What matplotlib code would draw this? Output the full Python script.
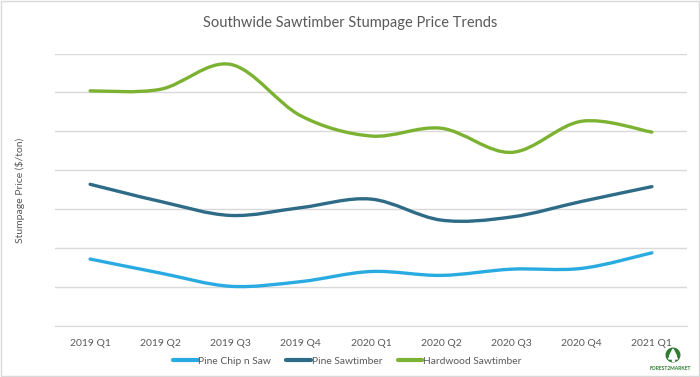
import matplotlib
matplotlib.use("Agg")
import matplotlib.pyplot as plt
from matplotlib.path import Path
from matplotlib.patches import PathPatch, Rectangle, Circle, Polygon
from matplotlib.lines import Line2D
import numpy as np

plt.rcParams['font.family'] = ['Lato', 'DejaVu Sans']

categories = ["2019 Q1", "2019 Q2", "2019 Q3", "2019 Q4", "2020 Q1",
              "2020 Q2", "2020 Q3", "2020 Q4", "2021 Q1"]
pine_cns = [18.6, 16.8, 15.1, 15.7, 17.0, 16.5, 17.3, 17.4, 19.4]
pine_saw = [28.2, 26.0, 24.2, 25.2, 26.3, 23.6, 24.0, 26.0, 27.9]
hardwood_saw = [40.2, 40.4, 43.6, 37.0, 34.4, 35.4, 32.3, 36.3, 34.9]
series_names = ["Pine Chip n Saw", "Pine Sawtimber", "Hardwood Sawtimber"]
colors = ["#29ABE2", "#2E6B87", "#7CB232"]

fig = plt.figure(figsize=(7.0, 3.77), dpi=100)
ax = fig.add_axes([55/700, 1-326/377, 632/700, (326-53.5)/377])

def smooth_path(xs, ys):
    pts = np.column_stack([xs, ys]).astype(float)
    n = len(pts)
    verts = [pts[0]]
    codes = [Path.MOVETO]
    for i in range(n - 1):
        p_prev = pts[i - 1] if i > 0 else pts[i]
        p_next2 = pts[i + 2] if i + 2 < n else pts[i + 1]
        c1 = pts[i] + (pts[i + 1] - p_prev) / 6.0
        c2 = pts[i + 1] - (p_next2 - pts[i]) / 6.0
        verts += [c1, c2, pts[i + 1]]
        codes += [Path.CURVE4] * 3
    return Path(verts, codes)

x = np.arange(len(categories))
for vals, col in zip([pine_cns, pine_saw, hardwood_saw], colors):
    patch = PathPatch(smooth_path(x, vals), facecolor='none', edgecolor=col,
                      lw=2.4, capstyle='round', joinstyle='round', zorder=3)
    ax.add_patch(patch)

ax.set_xlim(-0.5, len(categories) - 0.5)
ax.set_ylim(10, 45)
ax.set_yticks(np.arange(10, 46, 5))
ax.yaxis.grid(True, color='#D9D9D9', lw=1)
ax.set_axisbelow(True)
ax.tick_params(axis='y', length=0, labelleft=False)
ax.tick_params(axis='x', length=0, labelsize=7.5, labelcolor='#595959', pad=9)
ax.set_xticks(x)
ax.set_xticklabels(categories)
for s in ['top', 'right', 'left']:
    ax.spines[s].set_visible(False)
ax.spines['bottom'].set_color('#D9D9D9')

fig.text(0.5, 1-23/377, "Southwide Sawtimber Stumpage Price Trends",
         ha='center', va='center', fontsize=10.5, color='#595959')
fig.text(20/700, 1-190/377, "Stumpage Price ($/ton)", rotation=90,
         ha='center', va='center', fontsize=7.5, color='#595959')

handles = [Line2D([0], [0], color=c, lw=3, solid_capstyle='round') for c in colors]
fig.legend(handles, series_names, loc='center', bbox_to_anchor=(347/700, 1-361/377),
           ncol=3, frameon=False, fontsize=7.4, labelcolor='#595959',
           handlelength=2.4, handletextpad=0.05, columnspacing=1.5)

# logo
lax = fig.add_axes([0, 0, 1, 1], zorder=5)
lax.set_xlim(0, 700); lax.set_ylim(377, 0); lax.axis('off')
lax.add_patch(Circle((673, 355), 6.8, color='#2F7D32'))
lax.add_patch(Polygon([[673, 349], [669.5, 356], [676.5, 356]], closed=True, color='white'))
lax.add_patch(Polygon([[673, 351], [668.5, 359], [677.5, 359]], closed=True, color='white'))
lax.add_patch(Rectangle((672.4, 358), 1.2, 3, color='white'))
lax.text(670, 368, "FOREST2MARKET", ha='center', va='center', fontsize=3.6,
         color='#2F7D32', fontweight='bold')

fig.patches.append(Rectangle((0.002, 0.003), 0.996, 0.994, transform=fig.transFigure,
                             fill=False, edgecolor='#D9D9D9', lw=1))

fig.savefig("out.png", dpi=100, facecolor='white')
